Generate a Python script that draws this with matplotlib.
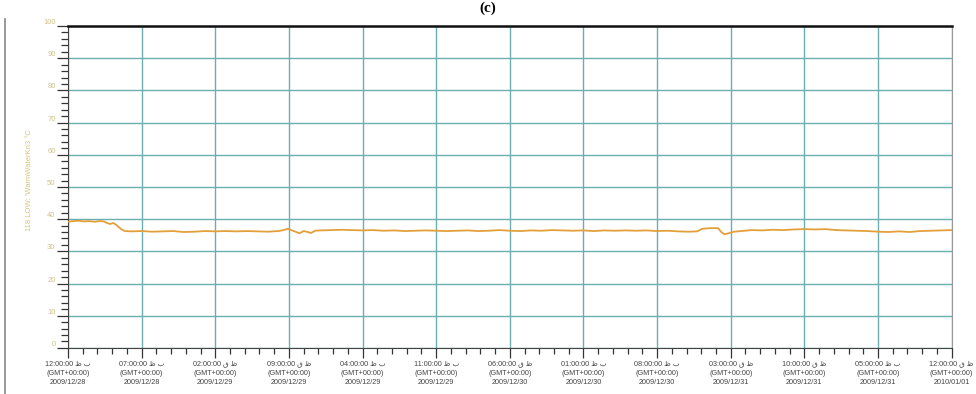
import matplotlib
matplotlib.use("Agg")
import matplotlib.pyplot as plt
from matplotlib.ticker import MultipleLocator
from matplotlib.lines import Line2D

# hours since 2009/12/28 12:00 and temperature readings (deg C)
hours = [0, 0.5, 1, 1.5, 2, 2.5, 3, 3.4, 3.7, 4.0, 4.3, 4.6, 5.0, 5.4,
         6, 7, 8, 9, 10, 11, 12, 13, 14, 15, 16, 17, 18, 19, 20,
         20.5, 20.9, 21.3, 21.7, 22.0, 22.4, 22.8, 23.1, 23.5,
         24, 25, 26, 27, 28, 29, 30, 31, 32, 33, 34, 35, 36, 37, 38, 39,
         40, 41, 42, 43, 44, 45, 46, 47, 48, 49, 50, 51, 52, 53, 54, 55,
         56, 57, 58, 59, 59.8, 60.3, 61, 61.8, 62.1, 62.4, 62.8, 63.3,
         64, 65, 66, 67, 68, 69, 70, 71, 72, 73, 74, 75, 76, 77, 78, 79,
         80, 81, 82, 83, 84]
temps = [39.2, 39.4, 39.5, 39.3, 39.4, 39.2, 39.4, 39.3, 38.8, 38.5, 38.8, 38.2, 37.0, 36.3,
         36.2, 36.3, 36.1, 36.2, 36.3, 36.0, 36.1, 36.3, 36.2, 36.3, 36.2, 36.3, 36.2, 36.1, 36.3,
         36.6, 37.0, 36.5, 36.0, 35.6, 36.3, 36.0, 35.7, 36.4,
         36.5, 36.6, 36.7, 36.6, 36.5, 36.6, 36.4, 36.5, 36.3, 36.4, 36.5, 36.4, 36.3, 36.4, 36.5, 36.3,
         36.4, 36.6, 36.4, 36.3, 36.5, 36.4, 36.6, 36.5, 36.4, 36.5, 36.3, 36.5, 36.4, 36.5, 36.4, 36.5,
         36.3, 36.4, 36.2, 36.1, 36.2, 37.0, 37.2, 37.2, 36.0, 35.3, 35.6, 36.1,
         36.3, 36.6, 36.5, 36.7, 36.6, 36.8, 36.9, 36.8, 36.9, 36.6, 36.5, 36.4, 36.3, 36.1, 36.0, 36.2,
         36.0, 36.3, 36.4, 36.5, 36.6]

tick_hours = [0, 7, 14, 21, 28, 35, 42, 49, 56, 63, 70, 77, 84]
tick_times = ["12:00:00 ظ ب", "07:00:00 ظ ب", "02:00:00 ق ظ", "09:00:00 ق ظ",
              "04:00:00 ظ ب", "11:00:00 ظ ب", "06:00:00 ق ظ", "01:00:00 ظ ب",
              "08:00:00 ظ ب", "03:00:00 ق ظ", "10:00:00 ق ظ", "05:00:00 ظ ب",
              "12:00:00 ق ظ"]
tick_dates = ["2009/12/28", "2009/12/28", "2009/12/29", "2009/12/29",
              "2009/12/29", "2009/12/29", "2009/12/30", "2009/12/30",
              "2009/12/30", "2009/12/31", "2009/12/31", "2009/12/31",
              "2010/01/01"]

plt.rcParams['font.family'] = ['Liberation Sans', 'DejaVu Sans']

fig = plt.figure(figsize=(9.76, 3.94), dpi=100)
ax = fig.add_axes([0.0697, 0.117, 0.9053, 0.817])

grid_col = '#6aaeb0'
ax.grid(True, which='major', color=grid_col, linewidth=1.0, zorder=0)
ax.plot(hours, temps, color='#e3a03a', linewidth=1.3, zorder=3)

ax.set_xlim(0, 84)
ax.set_ylim(0, 100)
ax.yaxis.set_major_locator(MultipleLocator(10))
ax.yaxis.set_minor_locator(MultipleLocator(2))
ax.set_xticks(tick_hours)
ax.xaxis.set_minor_locator(MultipleLocator(1.4))
labels = [f"{t}\n(GMT+00:00)\n{d}" for t, d in zip(tick_times, tick_dates)]
ax.set_xticklabels(labels, fontsize=5.2, color='#444444', linespacing=1.5)

ax.tick_params(axis='x', which='major', length=7, width=0.9, color='#333333', pad=2)
ax.tick_params(axis='x', which='minor', length=4.5, width=0.9, color='#333333')
ax.tick_params(axis='y', which='major', length=8, width=0.9, color='#333333',
               labelsize=5.5, labelcolor='#cfc08a', pad=1)
ax.tick_params(axis='y', which='minor', length=5, width=0.9, color='#333333')
for lab in ax.get_yticklabels():
    lab.set_verticalalignment('bottom')

ax.set_ylabel("118 LOW: 'WarmWaterKn3 °C", fontsize=5.5, color='#d6c47a')
ax.yaxis.set_label_coords(-0.04, 0.52)

ax.spines['top'].set_linewidth(1.8)
ax.spines['top'].set_color('#111111')
ax.spines['left'].set_color('#444444')
ax.spines['bottom'].set_color('#444444')
ax.spines['right'].set_color('#999999')

# thin border line at the far left
fig.add_artist(Line2D([0.005, 0.005], [0, 0.952], color='#888888', linewidth=1.2))

fig.text(0.5, 1 - 8 / 394, "(c)", ha='center', va='center', fontsize=11,
         fontweight='bold', family='Liberation Serif')

fig.savefig("out.png", dpi=100)
